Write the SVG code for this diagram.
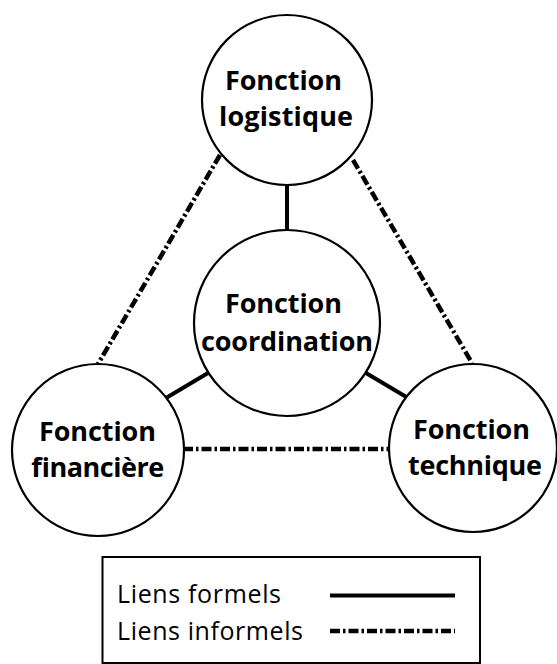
<svg xmlns="http://www.w3.org/2000/svg" width="557" height="664" viewBox="0 0 557 664">
  <style>
    .node { fill: #fff; stroke: #000; stroke-width: 2.2; }
    .lbl { font-family: "Open Sans", "Liberation Sans", sans-serif; font-weight: bold; font-size: 27px; fill: #000; text-anchor: middle; }
    .formel { stroke: #000; stroke-width: 4; fill: none; }
    .informel { stroke: #000; stroke-width: 4.5; fill: none; stroke-dasharray: 10 3 2.5 3; }
    .leg { font-family: "Open Sans", "Liberation Sans", sans-serif; font-size: 25px; fill: #000; }
  </style>
  <rect width="557" height="664" fill="#fff"/>

  <!-- connectors: solid = formal links, dash-dot = informal links -->
  <g id="connectors">
    <line class="formel" x1="287" y1="184" x2="287" y2="231"/>
    <line class="formel" x1="166" y1="398" x2="208" y2="373"/>
    <line class="formel" x1="366" y1="373" x2="408" y2="398"/>
    <line class="informel" x1="220" y1="155" x2="98" y2="364"/>
    <line class="informel" x1="353" y1="160" x2="472" y2="363"/>
    <line class="informel" x1="183" y1="449" x2="390" y2="449"/>
  </g>

  <g id="logistique">
    <circle class="node" cx="287" cy="100" r="85"/>
    <text class="lbl" x="283.5" y="90" textLength="117">Fonction</text>
    <text class="lbl" x="286" y="126" textLength="134">logistique</text>
  </g>

  <g id="coordination">
    <circle class="node" cx="287" cy="323" r="93"/>
    <text class="lbl" x="283.5" y="313" textLength="117">Fonction</text>
    <text class="lbl" x="287" y="351" textLength="172">coordination</text>
  </g>

  <g id="financiere">
    <circle class="node" cx="98" cy="450" r="86"/>
    <text class="lbl" x="97.5" y="441" textLength="117">Fonction</text>
    <text class="lbl" x="97.5" y="477" textLength="133">financière</text>
  </g>

  <g id="technique">
    <circle class="node" cx="473" cy="448" r="84"/>
    <text class="lbl" x="471.5" y="439" textLength="117">Fonction</text>
    <text class="lbl" x="475" y="475" textLength="134">technique</text>
  </g>

  <!-- legend -->
  <g id="legend">
    <rect x="102.5" y="557" width="377.5" height="106" fill="none" stroke="#000" stroke-width="2"/>
    <text class="leg" x="117" y="603" textLength="164">Liens formels</text>
    <text class="leg" x="117" y="640" textLength="186">Liens informels</text>
    <line class="formel" x1="330" y1="595.5" x2="455" y2="595.5" stroke-width="4.5"/>
    <line class="informel" x1="330" y1="631" x2="455" y2="631"/>
  </g>
</svg>
